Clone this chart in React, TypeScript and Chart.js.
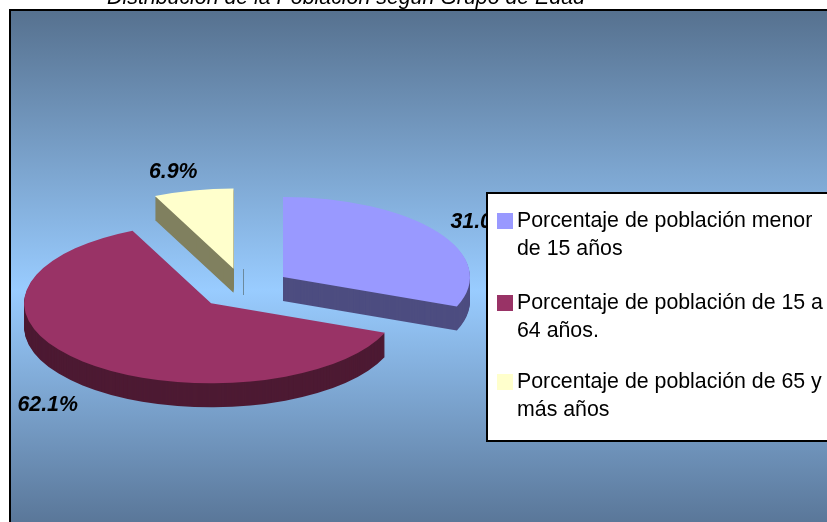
import React, { useEffect, useRef } from "react";
import { Chart, registerables } from "chart.js";

Chart.register(...registerables);

const chartTitle = "Distribución de la Población según Grupo de Edad";
const categories = [
  "Porcentaje de población menor de 15 años",
  "Porcentaje de población de 15 a 64 años.",
  "Porcentaje de población de 65 y más años",
];
const percentages = [31.0, 62.1, 6.9];
const topColors = ["#9999ff", "#993366", "#ffffcc"];
const wallColors = ["#4d4d80", "#4d1a33", "#80805f"];

const W = 827;
const H = 522;
const FONT = '"Liberation Sans", Arial, sans-serif';
const PIE = { cx: 243.714, cy: 288.5, squash: 0.428, explode: 47.5, depth: 24 };
const LABEL_SHIFT = [
  { dx: 43, dy: -10 },
  { dx: -35, dy: 44 },
  { dx: -20, dy: -18 },
];
const LEGEND = { x: 487, y: 193, maxWidth: 312, swatch: 16, textX: 517, lineH: 28 };
const LEGEND_TOPS = [220, 302, 381];

function wrap(ctx: CanvasRenderingContext2D, text: string, maxWidth: number) {
  const lines: string[] = [];
  let cur = "";
  for (const w of text.split(" ")) {
    const next = cur ? cur + " " + w : w;
    if (ctx.measureText(next).width > maxWidth && cur) {
      lines.push(cur);
      cur = w;
    } else cur = next;
  }
  if (cur) lines.push(cur);
  return lines;
}

const scenePlugin = {
  id: "scene",
  beforeDraw(chart: any) {
    const { ctx } = chart;
    ctx.save();
    ctx.fillStyle = "#ffffff";
    ctx.fillRect(0, 0, W, H);
    ctx.fillStyle = "#000000";
    ctx.font = `italic 21.33px ${FONT}`;
    ctx.textAlign = "center";
    ctx.textBaseline = "alphabetic";
    ctx.fillText(chartTitle, 346, 4);
    const g = ctx.createLinearGradient(0, 10, 0, H);
    g.addColorStop(0, "#56718f");
    g.addColorStop(0.547, "#99ccff");
    g.addColorStop(1, "#5a7799");
    ctx.fillStyle = g;
    ctx.fillRect(10, 10, W - 10, H - 10);
    ctx.fillStyle = "#000000";
    ctx.fillRect(9, 9, W - 9, 2);
    ctx.fillRect(9, 9, 2, H - 9);
    ctx.restore();
  },
  beforeDatasetsDraw(chart: any) {
    const { ctx } = chart;
    const arcs = chart.getDatasetMeta(0).data;
    const mid = (a: any) => (a.startAngle + a.endAngle) / 2;
    const place = (a: any, drop: number) => {
      ctx.translate(PIE.cx, PIE.cy + drop);
      ctx.scale(1, PIE.squash);
      ctx.translate(Math.cos(mid(a)) * PIE.explode, Math.sin(mid(a)) * PIE.explode);
      ctx.translate(-a.x, -a.y);
    };
    const paint = (a: any, color: string, drop: number) => {
      ctx.save();
      place(a, drop);
      const saved = a.options.backgroundColor;
      a.options.backgroundColor = color;
      a.draw(ctx);
      a.options.backgroundColor = saved;
      ctx.restore();
    };
    arcs.forEach((a: any, i: number) => {
      for (let d = PIE.depth; d >= 1; d--) paint(a, wallColors[i], d);
    });
    arcs.forEach((a: any, i: number) => paint(a, topColors[i], 0));

    ctx.save();
    ctx.strokeStyle = "#6c8a9e";
    ctx.lineWidth = 1;
    ctx.beginPath();
    ctx.moveTo(243.5, 269);
    ctx.lineTo(243.5, 295);
    ctx.stroke();
    ctx.restore();

    ctx.save();
    ctx.fillStyle = "#000000";
    ctx.font = `italic bold 21.33px ${FONT}`;
    ctx.textAlign = "center";
    ctx.textBaseline = "middle";
    arcs.forEach((a: any, i: number) => {
      const m = mid(a);
      const x = PIE.cx + Math.cos(m) * (PIE.explode + a.outerRadius);
      const y = PIE.cy + Math.sin(m) * (PIE.explode + a.outerRadius) * PIE.squash;
      ctx.fillText(`${percentages[i].toFixed(1)}%`, x + LABEL_SHIFT[i].dx, y + LABEL_SHIFT[i].dy);
    });
    ctx.restore();
    return false;
  },
  afterDraw(chart: any) {
    const { ctx } = chart;
    ctx.save();
    ctx.fillStyle = "#ffffff";
    ctx.fillRect(LEGEND.x, LEGEND.y, W - LEGEND.x + 5, 441 - LEGEND.y);
    ctx.strokeStyle = "#000000";
    ctx.lineWidth = 2;
    ctx.strokeRect(LEGEND.x, LEGEND.y, W - LEGEND.x + 5, 441 - LEGEND.y);
    ctx.font = `21.33px ${FONT}`;
    ctx.textAlign = "left";
    ctx.textBaseline = "middle";
    categories.forEach((c, i) => {
      const top = LEGEND_TOPS[i];
      ctx.fillStyle = topColors[i];
      ctx.fillRect(497, top - 7, LEGEND.swatch, LEGEND.swatch);
      ctx.fillStyle = "#000000";
      wrap(ctx, c, LEGEND.maxWidth).forEach((line, j) => {
        ctx.fillText(line, LEGEND.textX, top + 1 + j * LEGEND.lineH);
      });
    });
    ctx.restore();
  },
};

export default function App() {
  const ref = useRef<HTMLCanvasElement | null>(null);
  useEffect(() => {
    if (!ref.current) return;
    const chart = new Chart(ref.current, {
      type: "pie",
      data: {
        labels: categories,
        datasets: [
          {
            data: percentages,
            backgroundColor: topColors,
            borderWidth: 0,
          },
        ],
      },
      options: {
        responsive: false,
        animation: false,
        radius: 187,
        plugins: { legend: { display: false }, title: { display: false }, tooltip: { enabled: false } },
      } as any,
      plugins: [scenePlugin],
    });
    return () => chart.destroy();
  }, []);
  return (
    <canvas
      ref={ref}
      width={W}
      height={H}
      style={{ position: "fixed", left: 0, top: 0, width: W, height: H, display: "block" }}
    />
  );
}
